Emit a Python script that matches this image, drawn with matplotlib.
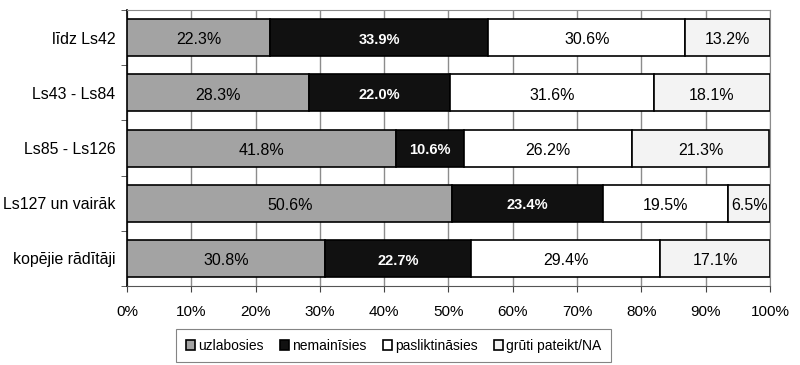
import matplotlib
matplotlib.use("Agg")
import matplotlib.pyplot as plt
import numpy as np

plt.rcParams['font.family'] = ['Liberation Sans', 'DejaVu Sans']

categories = ["līdz Ls42", "Ls43 - Ls84", "Ls85 - Ls126", "Ls127 un vairāk", "kopējie rādītāji"]
series_names = ["uzlabosies", "nemainīsies", "pasliktināsies", "grūti pateikt/NA"]
uzlabosies = [22.3, 28.3, 41.8, 50.6, 30.8]
nemainisies = [33.9, 22.0, 10.6, 23.4, 22.7]
pasliktinasies = [30.6, 31.6, 26.2, 19.5, 29.4]
gruti = [13.2, 18.1, 21.3, 6.5, 17.1]
xticks = [0, 10, 20, 30, 40, 50, 60, 70, 80, 90, 100]

series = [uzlabosies, nemainisies, pasliktinasies, gruti]
colors = ['#a3a3a3', '#111111', '#ffffff', '#f3f3f3']
text_colors = ['black', 'white', 'black', 'black']
weights = ['normal', 'bold', 'normal', 'normal']

fig = plt.figure(figsize=(8, 3.65), dpi=100)
ax = fig.add_axes([0.15875, 0.2164, 0.80375, 0.7562])

y = np.arange(len(categories))
left = np.zeros(len(categories))
handles = []
for vals, c, tc, w, name in zip(series, colors, text_colors, weights, series_names):
    vals = np.array(vals)
    bars = ax.barh(y, vals, left=left, height=0.67, color=c, edgecolor='black',
                   linewidth=1.2, label=name, zorder=3)
    handles.append(bars)
    for yi, l, v in zip(y, left, vals):
        ax.text(l + v / 2, yi + 0.04, f"{v:.1f}%", ha='center', va='center',
                color=tc, fontsize=11.5 if w == 'normal' else 10.5, fontweight=w, zorder=4)
    left += vals

ax.set_xlim(0, 100)
ax.set_ylim(len(categories) - 0.5, -0.5)
ax.set_xticks(xticks)
ax.set_xticklabels([f"{t}%" for t in xticks], fontsize=11)
ax.set_yticks(y)
ax.set_yticklabels(categories, fontsize=11.4)
ax.set_yticks(np.arange(len(categories) + 1) - 0.5, minor=True)
ax.tick_params(axis='y', which='major', length=0, pad=8.5)
ax.tick_params(axis='y', which='minor', length=4, direction='out', color='#444444')
ax.tick_params(axis='x', length=4, direction='out', pad=10, color='#444444')
ax.xaxis.grid(True, color='#8c8c8c', linewidth=1.0, zorder=0)
ax.set_axisbelow(True)
for s in ['top', 'right']:
    ax.spines[s].set_color('#8c8c8c')
ax.spines['left'].set_color('black')
ax.spines['left'].set_linewidth(1.2)
ax.spines['bottom'].set_color('#555555')

leg = fig.legend(handles=handles, labels=series_names, loc='center',
                 bbox_to_anchor=(0.492, 0.0534), ncol=4, frameon=True,
                 fontsize=10, handlelength=0.7, handleheight=0.7,
                 handletextpad=0.2, columnspacing=1.15, borderpad=0.7,
                 fancybox=False, edgecolor='#666666')
leg.get_frame().set_linewidth(0.8)

fig.savefig("out.png", dpi=100)
